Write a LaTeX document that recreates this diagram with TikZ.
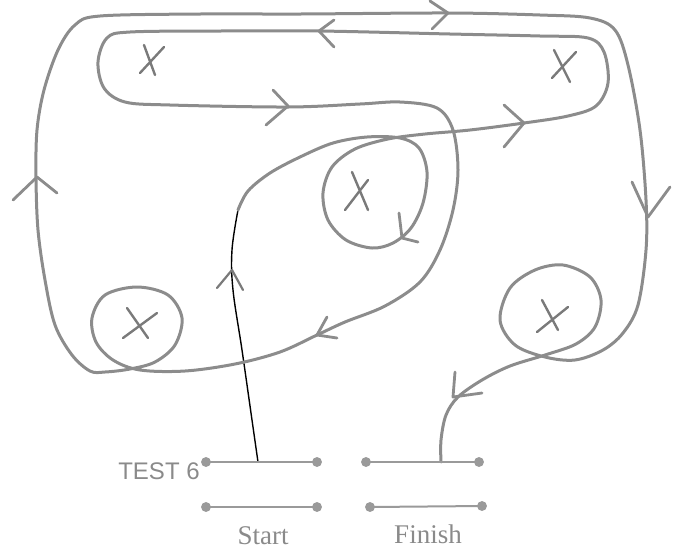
\documentclass[tikz,border=0pt]{standalone}
\usepackage{fontspec}
\setmainfont{Liberation Serif}
\newfontfamily\labelsans{Liberation Sans}
\definecolor{pen}{HTML}{8C8C8C}
\definecolor{penx}{HTML}{7A7A7A}
\definecolor{barc}{HTML}{9A9A9A}
\definecolor{txt}{HTML}{8A8A8A}
\begin{document}
\begin{tikzpicture}[x=1pt,y=-1pt,
  pencil/.style={draw=pen,line width=3pt,line cap=round,line join=round},
  chev/.style={draw=pen,line width=2.8pt,line cap=round,line join=round},
  xmark/.style={draw=penx,line width=2.4pt,line cap=round},
  bar/.style={draw=barc,line width=2pt},
  dotc/.style={fill=barc,draw=barc,line width=0.8pt}]
\useasboundingbox (0,0) rectangle (684,550);
% start line (black)
\draw[black,line width=1.4pt,line cap=round] plot[smooth,tension=0.6] coordinates
 {(258,462) (252,420) (242,350) (233,290) (232,250) (238,210)};
% main pencil path
\draw[pencil] plot[smooth,tension=0.55] coordinates {
 (238,210) (248,191) (270,173) (300,157) (333,143) (367,137) (400,138)
 (419,148) (427,172) (423,203) (411,228) (393,243) (372,248) (346,240)
 (328,220) (323,193) (332,167) (355,149) (388,139) (425,134) (470,130)
 (524,123) (568,116) (596,106) (608,83) (604,52) (588,38) (540,36)
 (450,34) (319,31) (220,31) (130,32) (107,38) (98,62) (104,88) (125,102)
 (170,105) (288,107) (360,104) (400,102) (437,108) (453,130) (458,170)
 (453,210) (440,250) (420,282) (385,306) (345,322) (317,335) (280,352)
 (235,364) (185,371) (140,370) (113,360) (96,342) (92,318) (105,295)
 (137,287) (168,295) (182,318) (175,345) (155,362) (130,369) (105,372)
 (90,371) (72,355) (55,325) (45,280) (38,230) (36,177) (37,130) (44,90)
 (58,50) (75,25) (100,16) (200,14) (300,14) (448,13) (540,15) (590,18)
 (615,30) (628,65) (640,130) (646,200) (646,250) (638,305) (623,333)
 (603,350) (575,360) (545,357) (515,345) (500,320) (510,288) (535,270)
 (563,265) (590,277) (601,300) (595,327) (576,344) (545,355) (510,366)
 (482,380) (458,397) (446,415) (441,440) (441,462)};
% arrowheads
\draw[chev] (430,1) -- (448,13) -- (432,29);
\draw[chev] (334,20) -- (319,31) -- (334,47);
\draw[chev] (273,90) -- (288,106) -- (266,125);
\draw[chev] (504,105) -- (524,123) -- (504,147);
\draw[chev] (13,200) -- (37,177) -- (57,193);
\draw[chev] (632,182) -- (648,217) -- (670,187);
\draw[chev] (399,213) -- (402,238) -- (418,242);
\draw[chev,draw=penx,line width=2.2pt] (217,288) -- (232,270) -- (243,290);
\draw[chev] (327,317) -- (317,335) -- (337,338);
\draw[chev] (455,372) -- (453,397) -- (482,393);
% X marks
\draw[xmark] (144,45) -- (155,75) (164,47) -- (140,73);
\draw[xmark] (554,50) -- (570,82) (576,52) -- (552,78);
\draw[xmark] (352,172) -- (368,210) (368,180) -- (345,210);
\draw[xmark] (127,308) -- (148,338) (157,313) -- (123,338);
\draw[xmark] (542,300) -- (558,330) (568,307) -- (537,332);
% bars
\coordinate (s1a) at (206,462); \coordinate (s1b) at (317,462);
\coordinate (s2a) at (206,507); \coordinate (s2b) at (317,507);
\coordinate (f1a) at (366,462); \coordinate (f1b) at (479,462);
\coordinate (f2a) at (370,507); \coordinate (f2b) at (482,506);
\foreach \a/\b in {s1a/s1b,s2a/s2b,f1a/f1b,f2a/f2b}{
  \draw[bar] (\a) -- (\b);
  \fill[dotc] (\a) circle (4.5);
  \fill[dotc] (\b) circle (4.5);
}
% labels
\node[text=txt,font=\labelsans\fontsize{24}{26}\selectfont] (test) at (159,471) {TEST 6};
\node[text=txt,font=\fontsize{27}{29}\selectfont] (start) at (263,536) {Start};
\node[text=txt,font=\fontsize{27}{29}\selectfont] (finish) at (428,534) {Finish};
\end{tikzpicture}
\end{document}
